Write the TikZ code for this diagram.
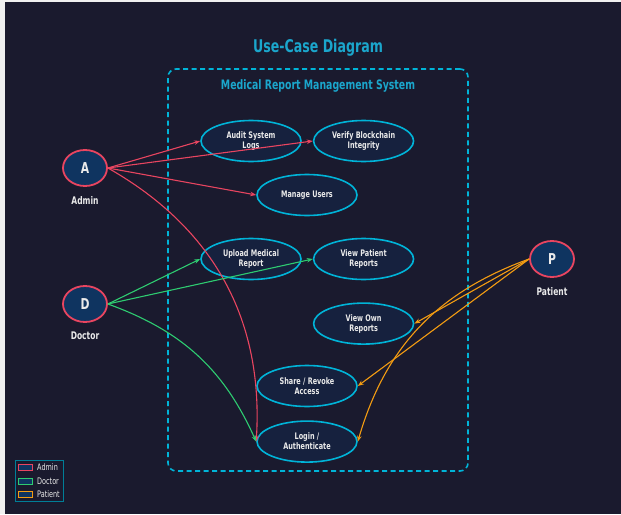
\documentclass[tikz,border=0pt]{standalone}
\usepackage{fontspec}
\IfFontExistsTF{DejaVu Sans}{\setmainfont{DejaVu Sans}[FakeStretch=0.72]}{}
\usetikzlibrary{arrows.meta,positioning,fit,shapes.geometric}

\definecolor{bgdark}{HTML}{1A1A2E}
\definecolor{ucfill}{HTML}{16213E}
\definecolor{actorfill}{HTML}{0F3460}
\definecolor{accent}{HTML}{E94560}
\definecolor{cyanline}{HTML}{00B4D8}
\definecolor{titlecyan}{HTML}{1BA6CC}
\definecolor{doctorgreen}{HTML}{2ECC71}
\definecolor{patientorange}{HTML}{F39C12}
\definecolor{lighttext}{HTML}{EAEAEA}

\begin{document}
\begin{tikzpicture}[
  x=1pt, y=-1pt,
  node distance=11pt and 11pt,
  usecase/.style={
    ellipse,
    draw=cyanline,
    line width=1.6pt,
    fill=ucfill,
    align=center,
    inner sep=0pt,
    minimum width=100pt,
    minimum height=41pt,
    text=lighttext,
    font=\bfseries\fontsize{9}{10}\selectfont
  },
  actor/.style={
    ellipse,
    draw=accent,
    line width=1.8pt,
    fill=actorfill,
    inner sep=0pt,
    minimum width=44pt,
    minimum height=36pt,
    text=lighttext,
    font=\bfseries\fontsize{15}{18}\selectfont
  },
  role/.style={text=lighttext, inner sep=0pt, font=\bfseries\fontsize{10.5}{12}\selectfont},
  sysbox/.style={draw=cyanline, dashed, dash pattern=on 5pt off 3.5pt, line width=1.6pt, rounded corners=8pt},
  keybox/.style={draw, line width=1pt, fill=actorfill, minimum width=14pt, minimum height=6pt, inner sep=0pt},
  keytext/.style={text=lighttext, inner sep=1pt, font=\fontsize{9}{10}\selectfont},
  arr/.style={-{Stealth[length=6pt,width=4.5pt]},line width=1.1pt}
]
% canvas
\useasboundingbox (0,0) rectangle (621,514);
\fill[white!94!black] (0,0) rectangle (621,514);
\fill[bgdark] (5,2) rectangle (621,514);

\node[text=titlecyan, font=\bfseries\fontsize{17.5}{20}\selectfont] (title) at (318,48) {Use-Case Diagram};

% system boundary
\node[sysbox, minimum width=300pt, minimum height=402pt] (system) at (318,270) {};
\node[text=titlecyan, font=\bfseries\fontsize{13}{15}\selectfont] (systitle) at (318,86) {Medical Report Management System};

% use cases
\node[usecase] (audit) at (251,141) {Audit System\\Logs};
\node[usecase, right=of audit] (verify) {Verify Blockchain\\Integrity};
\node[usecase] (users) at (307,195) {Manage Users};
\node[usecase] (upload) at (251,259) {Upload Medical\\Report};
\node[usecase, right=of upload] (viewpat) {View Patient\\Reports};
\node[usecase, below=22pt of viewpat] (viewown) {View Own\\Reports};
\node[usecase] (share) at (307,386) {Share / Revoke\\Access};
\node[usecase, below=13pt of share] (login) {Login /\\Authenticate};

% actors
\node[actor] (admin) at (85,168) {A};
\node[role, below=9pt of admin] (adminlbl) {Admin};
\node[actor] (doctor) at (85,304) {D};
\node[role, below=9pt of doctor] (doctorlbl) {Doctor};
\node[actor] (patient) at (552,259) {P};
\node[role, below=9pt of patient] (patientlbl) {Patient};

% associations
\begin{scope}[accent]
\draw[arr] (admin.east) -- (audit.west);
\draw[arr] (admin.east) -- (verify.west);
\draw[arr] (admin.east) -- (users.west);
\draw[arr] (admin.east) to[bend left=32] (login.west);
\end{scope}
\begin{scope}[doctorgreen]
\draw[arr] (doctor.east) -- (upload.west);
\draw[arr] (doctor.east) -- (viewpat.west);
\draw[arr] (doctor.east) to[bend left=23] (login.west);
\end{scope}
\begin{scope}[patientorange]
\draw[arr] (patient.west) -- (viewown.east);
\draw[arr] (patient.west) -- (share.east);
\draw[arr] (patient.west) to[bend right=27] (login.east);
\end{scope}

% legend
\node[keybox, draw=accent] (keyadmin) at (25.5,467.5) {};
\node[keybox, draw=doctorgreen] (keydoctor) at (25.5,481) {};
\node[keybox, draw=patientorange] (keypatient) at (25.5,494.5) {};
\node[keytext, right=3pt of keyadmin] (txtadmin) {Admin};
\node[keytext, right=3pt of keydoctor] (txtdoctor) {Doctor};
\node[keytext, right=3pt of keypatient] (txtpatient) {Patient};
\node[draw=cyanline!70!black, line width=1pt, inner sep=2.5pt, fit=(keyadmin)(keypatient)(txtadmin)(txtpatient)] (legend) {};
\end{tikzpicture}
\end{document}
